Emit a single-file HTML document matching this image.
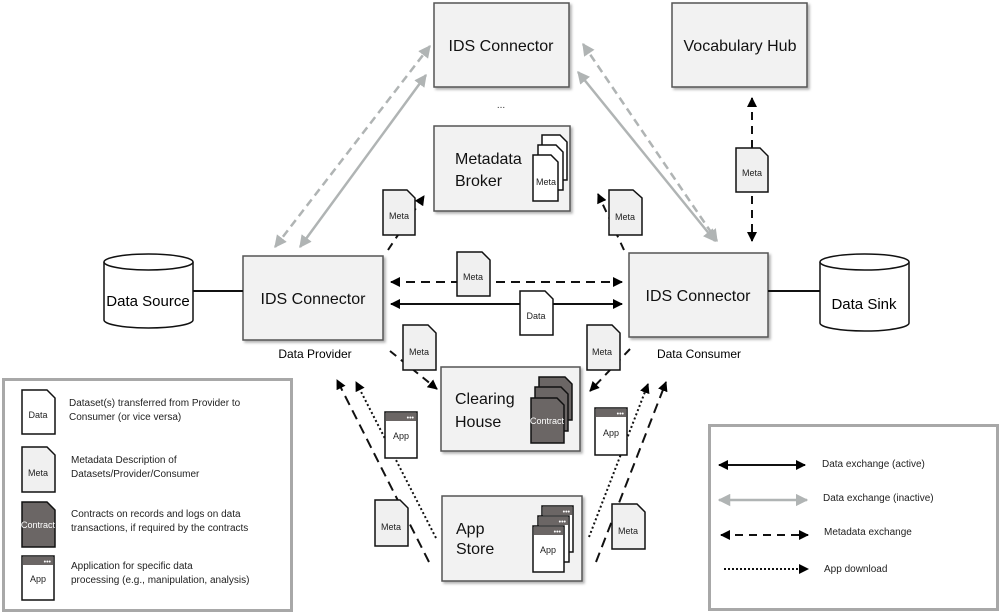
<!DOCTYPE html>
<html><head><meta charset="utf-8"><style>
html,body{margin:0;padding:0;background:#fff;}
svg{display:block;font-family:"Liberation Sans",sans-serif;}
</style></head><body>
<svg width="1000" height="612" viewBox="0 0 1000 612" xmlns="http://www.w3.org/2000/svg">
<defs>
<marker id="ab" viewBox="0 0 10 10" refX="9" refY="5" markerWidth="5" markerHeight="5" orient="auto-start-reverse"><path d="M0,0L10,5L0,10z" fill="#000"/></marker>
<marker id="ag" viewBox="0 0 10 10" refX="9" refY="5" markerWidth="5" markerHeight="5" orient="auto-start-reverse"><path d="M0,0L10,5L0,10z" fill="#b0b4b4"/></marker>
<filter id="sh" x="-5%" y="-5%" width="115%" height="115%"><feDropShadow dx="2" dy="2" stdDeviation="1.2" flood-color="#000" flood-opacity="0.3"/></filter>
</defs>

<!-- boxes -->
<g fill="#f2f2f2" stroke="#555" stroke-width="1.5" filter="url(#sh)">
<rect x="434" y="3" width="135" height="84"/>
<rect x="672" y="3" width="135" height="84"/>
<rect x="434" y="126" width="136" height="85"/>
<rect x="243" y="256" width="140" height="84"/>
<rect x="629" y="253" width="139" height="84"/>
<rect x="441" y="367" width="139" height="84"/>
<rect x="442" y="496" width="140" height="85"/>
</g>
<g font-size="16" fill="#111" text-anchor="middle">
<text x="501" y="51">IDS Connector</text>
<text x="740" y="51">Vocabulary Hub</text>
<text x="313" y="304">IDS Connector</text>
<text x="698" y="301">IDS Connector</text>
</g>
<g font-size="16" fill="#111">
<text x="455" y="164">Metadata</text><text x="455" y="186">Broker</text>
<text x="455" y="404">Clearing</text><text x="455" y="427">House</text>
<text x="456" y="534">App</text><text x="456" y="554">Store</text>
</g>
<text x="501" y="108" font-size="10" text-anchor="middle" fill="#333">...</text>

<!-- cylinders -->
<g fill="#fff" stroke="#111" stroke-width="1.5">
<path d="M104,262 L104,320 A44.5,8 0 0 0 193,320 L193,262"/>
<ellipse cx="148.5" cy="262" rx="44.5" ry="8"/>
<path d="M820,262 L820,323 A44.5,8 0 0 0 909,323 L909,262"/>
<ellipse cx="864.5" cy="262" rx="44.5" ry="8"/>
</g>
<text x="148" y="306" font-size="15" text-anchor="middle">Data Source</text>
<text x="864" y="309" font-size="15" text-anchor="middle">Data Sink</text>
<line x1="193" y1="291" x2="243" y2="291" stroke="#111" stroke-width="2"/>
<line x1="768" y1="291" x2="820" y2="291" stroke="#111" stroke-width="2"/>
<text x="315" y="358" font-size="12" text-anchor="middle">Data Provider</text>
<text x="699" y="358" font-size="12" text-anchor="middle">Data Consumer</text>

<!-- gray arrows -->
<g stroke="#b0b4b4" stroke-width="2.5" fill="none">
<line x1="300" y1="247" x2="426" y2="75" marker-start="url(#ag)" marker-end="url(#ag)"/>
<line x1="275" y1="247" x2="430" y2="46" stroke-dasharray="8,5" marker-start="url(#ag)" marker-end="url(#ag)"/>
<line x1="578" y1="72" x2="715" y2="241" marker-start="url(#ag)" marker-end="url(#ag)"/>
<line x1="583" y1="44" x2="717" y2="241" stroke-dasharray="8,5" marker-start="url(#ag)" marker-end="url(#ag)"/>
</g>

<!-- black arrows -->
<g stroke="#111" stroke-width="2" fill="none">
<line x1="752" y1="98" x2="752" y2="241" stroke-dasharray="8,6" marker-start="url(#ab)" marker-end="url(#ab)"/>
<line x1="388" y1="250" x2="424" y2="196" stroke-dasharray="8,6" marker-end="url(#ab)"/>
<line x1="624" y1="250" x2="598" y2="194" stroke-dasharray="8,6" marker-end="url(#ab)"/>
<line x1="391" y1="282" x2="622" y2="282" stroke-dasharray="9,6" marker-start="url(#ab)" marker-end="url(#ab)"/>
<line x1="391" y1="304" x2="622" y2="304" marker-start="url(#ab)" marker-end="url(#ab)"/>
<line x1="390" y1="351" x2="437" y2="389" stroke-dasharray="8,6" marker-end="url(#ab)"/>
<line x1="630" y1="349" x2="590" y2="391" stroke-dasharray="8,6" marker-end="url(#ab)"/>
<line x1="429" y1="562" x2="337" y2="380" stroke-dasharray="10,6" marker-end="url(#ab)"/>
<line x1="436" y1="538" x2="356" y2="382" stroke-dasharray="2,2.5" marker-end="url(#ab)"/>
<line x1="596" y1="562" x2="666" y2="382" stroke-dasharray="10,6" marker-end="url(#ab)"/>
<line x1="589" y1="537" x2="648" y2="384" stroke-dasharray="2,2.5" marker-end="url(#ab)"/>
</g>

<!-- doc icons: meta -->
<g stroke="#111" stroke-width="1.5">
<g fill="#f0f0f0">
<path d="M736,148h24l8,8v36h-32z"/>
<path d="M383,190h24l8,8v37h-32z"/>
<path d="M609,190h24l9,8v37h-33z"/>
<path d="M457,252h25l8,8v36h-33z"/>
<path d="M403,325h25l8,8v37h-33z"/>
<path d="M587,325h25l8,8v37h-33z"/>
<path d="M375,500h25l8,8v38h-33z"/>
<path d="M612,504h25l8,8v37h-33z"/>
<path d="M22,447h25l8,8v37h-33z"/>
</g>
<g fill="#fff">
<path d="M520,291h25l8,8v36h-33z"/>
<path d="M22,390h25l8,8v36h-33z"/>
<path d="M542,135h18l7,7v38h-25z"/>
<path d="M538,145h18l7,7v38h-25z"/>
<path d="M533,155h18l7,7v39h-25z"/>
</g>
<g fill="#6b6665">
<path d="M539,377h26l7,7v36h-33z"/>
<path d="M535,387h26l7,7v37h-33z"/>
<path d="M531,398h26l7,7v38h-33z"/>
<path d="M22,502h25l8,8v37h-33z"/>
</g>
<!-- app icons -->
<g fill="#fff">
<rect x="385" y="412" width="32" height="46"/><rect x="595" y="408" width="32" height="47"/>
<rect x="542" y="506" width="31" height="46"/><rect x="538" y="516" width="31" height="46"/><rect x="533" y="526" width="31" height="46"/>
<rect x="22" y="556" width="32" height="44"/>
</g>
</g>
<g fill="#6b6665">
<rect x="386" y="413" width="30" height="8"/><rect x="596" y="409" width="30" height="8"/>
<rect x="543" y="507" width="29" height="8"/><rect x="539" y="517" width="29" height="8"/><rect x="534" y="527" width="29" height="8"/>
<rect x="23" y="557" width="30" height="8"/>
</g>
<g fill="#fff" font-size="7" text-anchor="end">
<text x="414" y="420">•••</text><text x="624" y="416">•••</text>
<text x="570" y="514">•••</text><text x="566" y="524">•••</text><text x="561" y="534">•••</text>
<text x="51" y="564">•••</text>
</g>
<g font-size="9" fill="#222" text-anchor="middle">
<text x="752" y="176">Meta</text><text x="399" y="219">Meta</text><text x="625" y="220">Meta</text>
<text x="473" y="280">Meta</text><text x="419" y="355">Meta</text><text x="602" y="355">Meta</text>
<text x="391" y="530">Meta</text><text x="628" y="534">Meta</text><text x="38" y="476">Meta</text>
<text x="536" y="319">Data</text><text x="38" y="418">Data</text>
<text x="546" y="185">Meta</text>
<text x="401" y="439">App</text><text x="611" y="436">App</text><text x="548" y="553">App</text><text x="38" y="582">App</text>
</g>
<g font-size="9" fill="#fff" text-anchor="middle">
<text x="547" y="424">Contract</text><text x="38" y="528">Contract</text>
</g>

<!-- legends -->
<rect x="3.5" y="379.5" width="288" height="231" fill="none" stroke="#a8a8a8" stroke-width="3"/>
<rect x="709.5" y="425.5" width="288" height="184" fill="none" stroke="#a8a8a8" stroke-width="3"/>
<g font-size="10" fill="#222">
<text x="69" y="406">Dataset(s) transferred from Provider to</text>
<text x="69" y="420">Consumer (or vice versa)</text>
<text x="71" y="463">Metadata Description of</text>
<text x="71" y="477">Datasets/Provider/Consumer</text>
<text x="71" y="517">Contracts on records and logs on data</text>
<text x="71" y="531">transactions, if required by the contracts</text>
<text x="71" y="569">Application for specific data</text>
<text x="71" y="583">processing (e.g., manipulation, analysis)</text>
<text x="822" y="467">Data exchange (active)</text>
<text x="823" y="501">Data exchange (inactive)</text>
<text x="824" y="535">Metadata exchange</text>
<text x="824" y="572">App download</text>
</g>
<g stroke-width="2" fill="none">
<line x1="719" y1="465" x2="805" y2="465" stroke="#111" marker-start="url(#ab)" marker-end="url(#ab)"/>
<line x1="719" y1="500" x2="807" y2="500" stroke="#b0b4b4" stroke-width="2.5" marker-start="url(#ag)" marker-end="url(#ag)"/>
<line x1="721" y1="535" x2="808" y2="535" stroke="#111" stroke-dasharray="8,6" marker-start="url(#ab)" marker-end="url(#ab)"/>
<line x1="724" y1="569" x2="808" y2="569" stroke="#111" stroke-dasharray="2,2" marker-end="url(#ab)"/>
</g>
</svg>
</body></html>
